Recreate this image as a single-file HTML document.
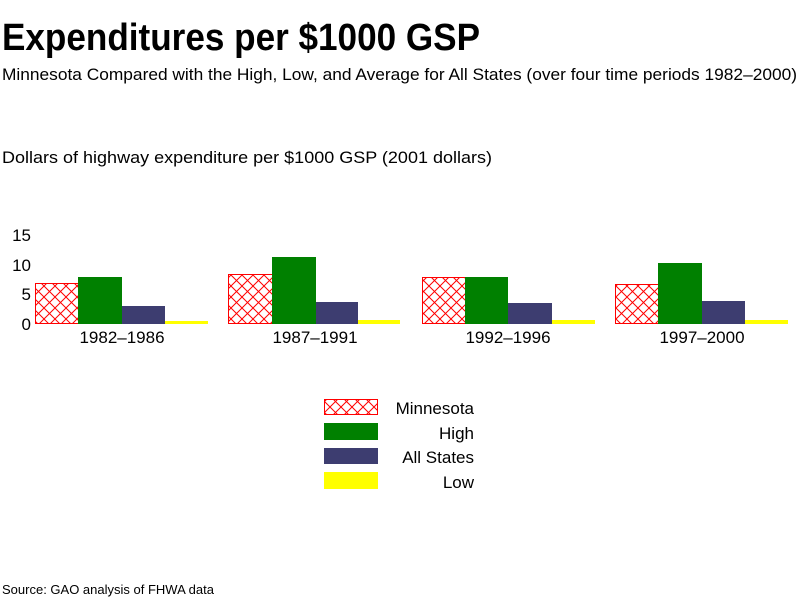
<!DOCTYPE html>
<html><head><style>
body{margin:0;background:#fff;}
svg{display:block;font-family:"Liberation Sans",sans-serif;}
</style></head><body>
<svg width="800" height="600" viewBox="0 0 800 600">
<defs>
<pattern id="h" width="11" height="11" patternUnits="userSpaceOnUse">
<rect width="11" height="11" fill="#fff"/>
<path d="M0,0L11,11M11,0L0,11" stroke="#f00" stroke-width="1"/>
</pattern>
</defs>
<text x="2" y="50" font-size="38" font-weight="bold" textLength="478" lengthAdjust="spacingAndGlyphs">Expenditures per $1000 GSP</text>
<text x="2" y="80" font-size="17" textLength="795" lengthAdjust="spacingAndGlyphs">Minnesota Compared with the High, Low, and Average for All States (over four time periods 1982–2000)</text>
<text x="2" y="163" font-size="17" textLength="490" lengthAdjust="spacingAndGlyphs">Dollars of highway expenditure per $1000 GSP   (2001 dollars)</text>
<g font-size="17" text-anchor="end">
<text x="31" y="241">15</text><text x="31" y="271">10</text><text x="31" y="300">5</text><text x="31" y="330">0</text>
</g>
<g stroke="#f00" stroke-width="1">
<rect x="35.5" y="283.5" width="43" height="40" fill="url(#h)"/>
<rect x="228.5" y="274.5" width="44" height="49" fill="url(#h)"/>
<rect x="422.5" y="277.5" width="43" height="46" fill="url(#h)"/>
<rect x="615.5" y="284.5" width="43" height="39" fill="url(#h)"/>
</g>
<g fill="#008000">
<rect x="78" y="277" width="44" height="47"/><rect x="272" y="257" width="44" height="67"/>
<rect x="465" y="277" width="43" height="47"/><rect x="658" y="263" width="44" height="61"/>
</g>
<g fill="#3d3d70">
<rect x="122" y="306" width="43" height="18"/><rect x="316" y="302" width="42" height="22"/>
<rect x="508" y="303" width="44" height="21"/><rect x="702" y="301" width="43" height="23"/>
</g>
<g fill="#ff0">
<rect x="165" y="321" width="43" height="3"/><rect x="358" y="320" width="42" height="4"/>
<rect x="552" y="320" width="43" height="4"/><rect x="745" y="320" width="43" height="4"/>
</g>
<g font-size="17" text-anchor="middle">
<text x="122" y="343">1982–1986</text><text x="315" y="343">1987–1991</text>
<text x="508" y="343">1992–1996</text><text x="702" y="343">1997–2000</text>
</g>
<rect x="324.5" y="399.5" width="53" height="15" fill="url(#h)" stroke="#f00"/>
<rect x="324" y="423" width="54" height="17" fill="#008000"/>
<rect x="324" y="448" width="54" height="16" fill="#3d3d70"/>
<rect x="324" y="472" width="54" height="17" fill="#ff0"/>
<g font-size="17" text-anchor="end">
<text x="474" y="414">Minnesota</text><text x="474" y="439">High</text>
<text x="474" y="463">All States</text><text x="474" y="488">Low</text>
</g>
<text x="2" y="594" font-size="13">Source: GAO analysis of FHWA data</text>
</svg>
</body></html>
